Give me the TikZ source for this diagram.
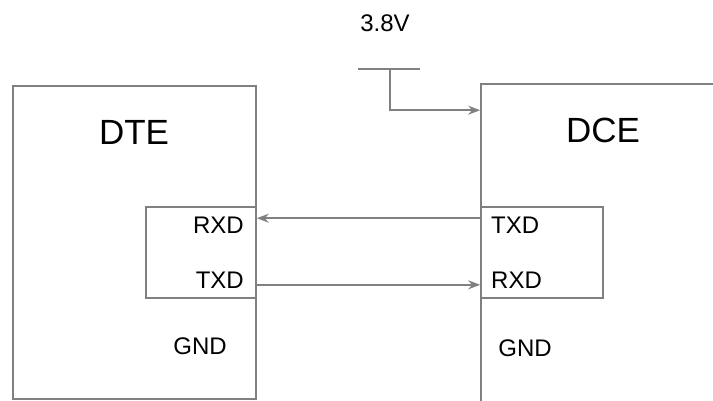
\documentclass[tikz,border=0pt]{standalone}
\usepackage{fontspec}
\setmainfont{Liberation Sans}
\usetikzlibrary{arrows.meta}

\begin{document}
\begin{tikzpicture}[x=1pt, y=-1pt,
  wire/.style={draw=black!50, line width=1.6pt},
  arr/.style={wire, -{Stealth[length=12pt,width=9pt]}},
  box/.style={wire, rectangle, inner sep=0pt, minimum width=#1},
  big/.style={font=\fontsize{35}{40}\selectfont},
  pin/.style={font=\fontsize{24}{28}\selectfont, inner sep=0pt}
]
  \useasboundingbox (0,0) rectangle (713,400);
  \clip (0,0) rectangle (713,400);

  % --- DTE (gauche) ---
  \node[box=243pt, minimum height=313pt] (dte) at (134.5,242.5) {};
  \node[big] (dtelbl) at (134,132) {DTE};
  \node[box=110pt, minimum height=91pt] (dtepins) at (201,252.5) {};
  \node[pin, anchor=east] (dterxd) at (244,225) {RXD};
  \node[pin, anchor=east] (dtetxd) at (244,280) {TXD};
  \node[pin] (dtegnd) at (200,346) {GND};

  % --- DCE (droite) ---
  \node[box=260pt, minimum height=340pt] (dce) at (611,254) {};
  \node[big] (dcelbl) at (603,130) {DCE};
  \node[box=122pt, minimum height=91pt] (dcepins) at (542,252.5) {};
  \node[pin, anchor=west] (dcetxd) at (491,225) {TXD};
  \node[pin, anchor=west] (dcerxd) at (491,280) {RXD};
  \node[pin] (dcegnd) at (525,348) {GND};

  % --- Liaisons ---
  \draw[arr] ([yshift=-12pt]dcepins.north west) -- ([yshift=-12pt]dtepins.north east);
  \draw[arr] ([yshift=14pt]dtepins.south east) -- ([yshift=14pt]dcepins.south west);

  % --- Alimentation ---
  \node[pin] (vcc) at (385,23) {3.8V};
  \coordinate (vl) at (358,69);
  \coordinate (vr) at (420,69);
  \coordinate (vt) at (390,69);
  \draw[wire] (vl) -- (vr);
  \draw[arr] (vt) |- ([yshift=-27pt]dce.north west);
\end{tikzpicture}
\end{document}
